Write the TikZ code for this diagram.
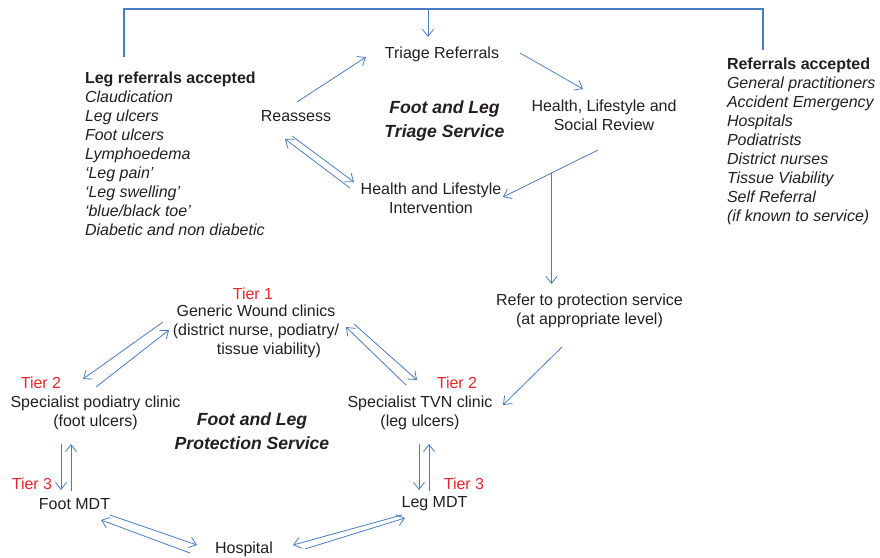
\documentclass[tikz,border=0pt]{standalone}
\usepackage{fontspec}
\setmainfont{Liberation Sans}
\usetikzlibrary{arrows.meta}
\definecolor{lineblue}{HTML}{4A7CC2}
\definecolor{tierred}{HTML}{E8262D}
\definecolor{txt}{HTML}{231F20}
\begin{document}
\begin{tikzpicture}[x=1pt,y=-1pt,
  every node/.style={inner sep=0pt,outer sep=0pt,text=txt,font=\fontsize{16}{19}\selectfont},
  lbl/.style={align=center},
  tier/.style={text=tierred},
  title/.style={align=center,font=\fontsize{17.6}{24}\selectfont\bfseries\itshape},
  lst/.style={align=left,anchor=north west},
  arr/.style={draw=lineblue,line width=0.8pt,-{Straight Barb[length=7pt,width=11pt]}},
  bracket/.style={draw=lineblue,line width=2pt}]
\useasboundingbox (0,0) rectangle (880,557);

% top part nodes
\node[lbl] (triage) at (442,54.5) {Triage Referrals};
\node[lbl] (reassess) at (296,116) {Reassess};
\node[title] (tts) at (444.5,120.5) {Foot and Leg\\Triage Service};
\node[lbl] (hlsr) at (604,115) {Health, Lifestyle and\\Social Review};
\node[lbl] (hli) at (431,198) {Health and Lifestyle\\Intervention};
\node[lst] (legref) at (85,72) {\textbf{Leg referrals accepted}\\\itshape Claudication\\\itshape Leg ulcers\\\itshape Foot ulcers\\\itshape Lymphoedema\\\itshape `Leg pain'\\\itshape `Leg swelling'\\\itshape `blue/black toe'\\\itshape Diabetic and non diabetic};
\node[lst] (ref) at (727,58) {\textbf{Referrals accepted}\\\itshape General practitioners\\\itshape Accident Emergency\\\itshape Hospitals\\\itshape Podiatrists\\\itshape District nurses\\\itshape Tissue Viability\\\itshape Self Referral\\\itshape (if known to service)};

% bottom part nodes
\node[lbl] (protect) at (589.5,311) {Refer to protection service\\(at appropriate level)};
\node[tier] (t1) at (253,294) {Tier 1};
\node[lbl] (generic) at (256,331) {Generic Wound clinics\\(district nurse, podiatry/\\\hspace*{26pt}tissue viability)};
\node[tier] (t2l) at (41,383) {Tier 2};
\node[lbl] (podclinic) at (95.5,413) {Specialist podiatry clinic\\(foot ulcers)};
\node[title] (fps) at (252,431) {Foot and Leg\\Protection Service};
\node[tier] (t2r) at (457,383) {Tier 2};
\node[lbl] (tvn) at (420,413) {Specialist TVN clinic\\(leg ulcers)};
\node[tier] (t3l) at (32,484) {Tier 3};
\node[lbl] (footmdt) at (74.5,504) {Foot MDT};
\node[tier] (t3r) at (464,484) {Tier 3};
\node[lbl] (legmdt) at (434.5,504) {Leg MDT};
\node[lbl] (hospital) at (244,549) {Hospital};

% coordinates for connector ends
\coordinate (bl) at (124,57);
\coordinate (bltop) at (124,9);
\coordinate (brtop) at (763,9);
\coordinate (br) at (763,50);
\coordinate (tdtop) at (428,9);
\coordinate (tdend) at (428,37);
\coordinate (reA) at (297,102); \coordinate (reB) at (366,57);
\coordinate (trA) at (520,53); \coordinate (trB) at (583,89);
\coordinate (hsA) at (598,150); \coordinate (hsB) at (503,197);
\coordinate (br1) at (551.5,173); \coordinate (br2) at (551.5,284);
\coordinate (rhA1) at (292,136); \coordinate (rhA2) at (354,182);
\coordinate (rhB1) at (350,188); \coordinate (rhB2) at (285,139);
\coordinate (ptA) at (562,347); \coordinate (ptB) at (503,405);
\coordinate (gpA1) at (163,322); \coordinate (gpA2) at (83,379);
\coordinate (gpB1) at (96,387); \coordinate (gpB2) at (169,330);
\coordinate (gtA1) at (406,385); \coordinate (gtA2) at (346,327);
\coordinate (gtB1) at (354,324); \coordinate (gtB2) at (417,380);
\coordinate (pfA1) at (61,444); \coordinate (pfA2) at (61,490);
\coordinate (pfB1) at (71,491); \coordinate (pfB2) at (71,444);
\coordinate (tlA1) at (419,444); \coordinate (tlA2) at (419,490);
\coordinate (tlB1) at (429,491); \coordinate (tlB2) at (429,444);
\coordinate (fhA1) at (110,515); \coordinate (fhA2) at (197,545);
\coordinate (fhB1) at (190,553); \coordinate (fhB2) at (101,520);
\coordinate (lhA1) at (402,515); \coordinate (lhA2) at (293,545);
\coordinate (lhB1) at (305,549); \coordinate (lhB2) at (405,518);

% bracket
\draw[bracket] (bl) -- (bltop) -- (brtop) -- (br);
\draw[arr] (tdtop) -- (tdend);

% triage cycle
\draw[arr] (reA) -- (reB);
\draw[arr] (trA) -- (trB);
\draw[arr] (hsA) -- (hsB);
\draw[arr] (br1) -- (br2);
\draw[arr] (rhA1) -- (rhA2);
\draw[arr] (rhB1) -- (rhB2);

% protection service
\draw[arr] (ptA) -- (ptB);
\draw[arr] (gpA1) -- (gpA2);
\draw[arr] (gpB1) -- (gpB2);
\draw[arr] (gtA1) -- (gtA2);
\draw[arr] (gtB1) -- (gtB2);
\draw[arr] (pfA1) -- (pfA2);
\draw[arr] (pfB1) -- (pfB2);
\draw[arr] (tlA1) -- (tlA2);
\draw[arr] (tlB1) -- (tlB2);
\draw[arr] (fhA1) -- (fhA2);
\draw[arr] (fhB1) -- (fhB2);
\draw[arr] (lhA1) -- (lhA2);
\draw[arr] (lhB1) -- (lhB2);
\end{tikzpicture}
\end{document}
